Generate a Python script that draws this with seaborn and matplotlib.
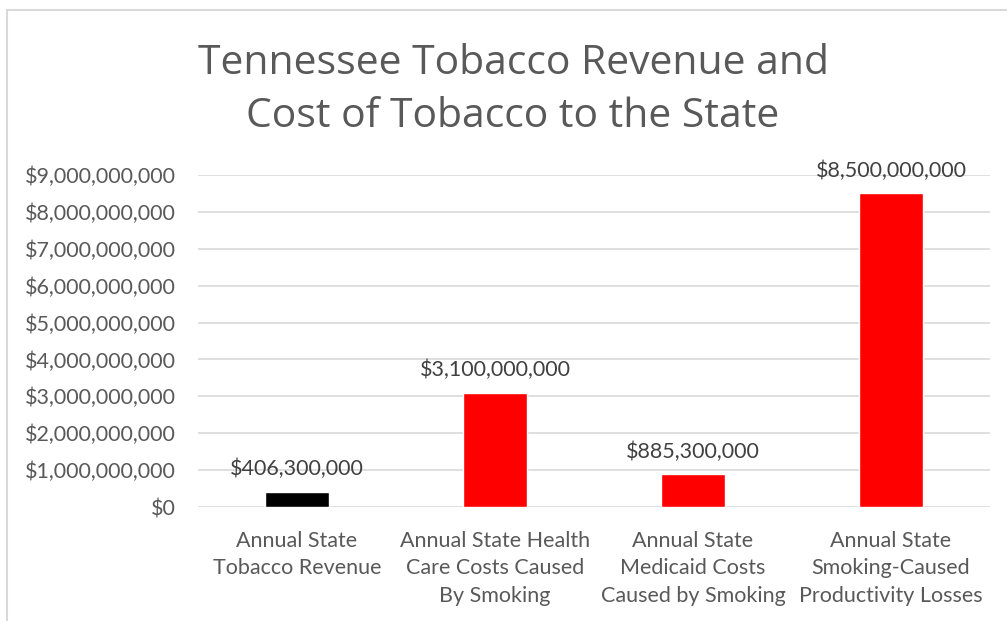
import matplotlib
matplotlib.use("Agg")
import matplotlib.pyplot as plt
import seaborn as sns
import pandas as pd
from matplotlib.patches import Rectangle
from matplotlib.ticker import FuncFormatter

categories = [
    "Annual State\nTobacco Revenue",
    "Annual State Health\nCare Costs Caused\nBy Smoking",
    "Annual State\nMedicaid Costs\nCaused by Smoking",
    "Annual State\nSmoking-Caused\nProductivity Losses",
]
values = [406300000, 3100000000, 885300000, 8500000000]
bar_colors = ["#000000", "#ff0000", "#ff0000", "#ff0000"]
title = "Tennessee Tobacco Revenue and\nCost of Tobacco to the State"

sns.set_theme(style="white")
plt.rcParams["font.family"] = ["Lato", "DejaVu Sans"]

df = pd.DataFrame({"cat": categories, "val": values})

fig = plt.figure(figsize=(10.07, 6.21), dpi=100)
ax = fig.add_axes([198 / 1007, 1 - 507 / 621, 792 / 1007, 332 / 621])

sns.barplot(data=df, x="cat", y="val", hue="cat", palette=bar_colors,
            width=0.32, legend=False, ax=ax, saturation=1)

ax.set_ylim(0, 9e9)
ax.set_yticks([i * 1e9 for i in range(10)])
ax.yaxis.set_major_formatter(FuncFormatter(lambda v, p: "${:,.0f}".format(v)))
ax.grid(axis="y", color="#d9d9d9", linewidth=1.2)
ax.set_axisbelow(True)
for s in ax.spines.values():
    s.set_visible(False)
ax.set_xlabel("")
ax.set_ylabel("")
ax.tick_params(axis="y", labelsize=15.5, labelcolor="#595959", length=0, pad=16)
ax.tick_params(axis="x", labelsize=15.5, labelcolor="#595959", length=0, pad=17)
for lbl in ax.get_xticklabels():
    lbl.set_linespacing(1.48)

for i, v in enumerate(values):
    ax.annotate("${:,.0f}".format(v), (i, v), xytext=(0, 9), textcoords="offset points",
                ha="center", va="bottom", fontsize=15.5, color="#404040")

fig.text(513 / 1007, 1 - 90 / 621, title, ha="center", va="center",
         fontsize=29.4, color="#595959", family=["Open Sans", "DejaVu Sans"],
         linespacing=1.4)

fig.patches.append(Rectangle((7 / 1007, -0.1), 1.2, 1 - 10 / 621 + 0.1,
                             transform=fig.transFigure, fill=False,
                             edgecolor="#d9d9d9", linewidth=1.5))

fig.savefig("out.png", dpi=100)
